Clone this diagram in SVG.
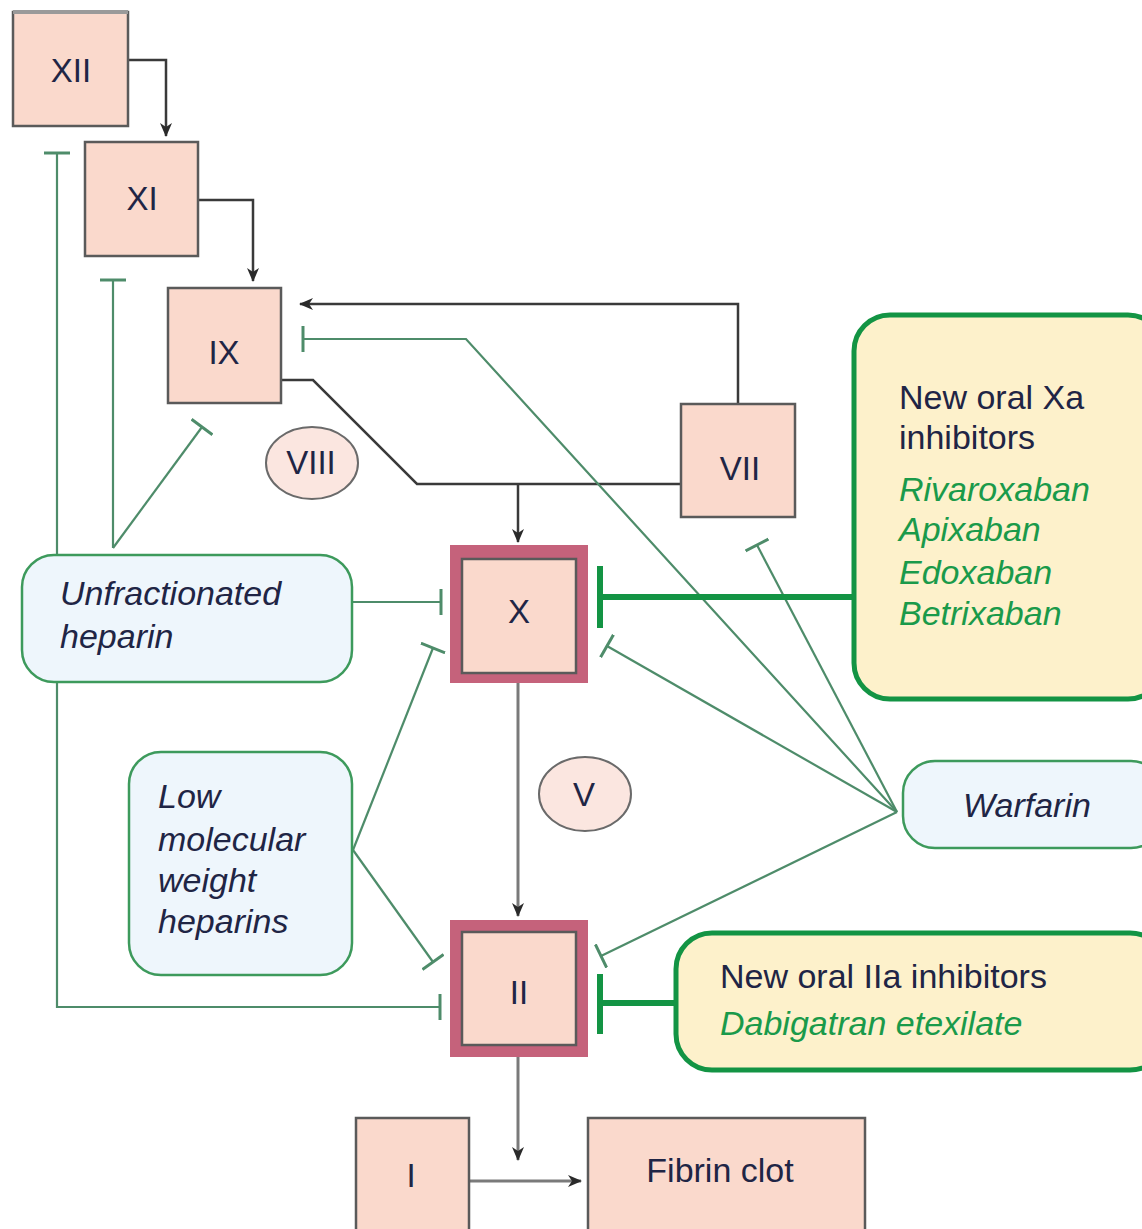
<svg xmlns="http://www.w3.org/2000/svg" width="1142" height="1229" viewBox="0 0 1142 1229">
<style>
.f{fill:#fad9cc;stroke:#5a5a5a;stroke-width:2.5}
.frame{fill:#c5627b}
.lab{font-family:"Liberation Sans",Arial,sans-serif;font-size:33px;fill:#1f2545;text-anchor:middle}
.it{font-family:"Liberation Sans",Arial,sans-serif;font-size:34px;font-style:italic;fill:#1f2545}
.gi{font-family:"Liberation Sans",Arial,sans-serif;font-size:34px;font-style:italic;fill:#1a9a4a}
.tx{font-family:"Liberation Sans",Arial,sans-serif;font-size:34px;fill:#1f2545}
.drug{fill:#eef6fc;stroke:#3d9a5c;stroke-width:2.5}
.newd{fill:#fdf1cb;stroke:#139444;stroke-width:5}
.ell{fill:#fbe6e0;stroke:#6a6a6a;stroke-width:2}
.act{fill:none;stroke:#3a3a3a;stroke-width:2.5}
.act2{fill:none;stroke:#7a7a7a;stroke-width:3}
.inh{fill:none;stroke:#4e8c6a;stroke-width:2.2}
.thick{fill:none;stroke:#139444;stroke-width:6}
</style>
<defs>
<marker id="arr" viewBox="0 0 14 14" refX="13" refY="7" markerWidth="14" markerHeight="14" markerUnits="userSpaceOnUse" orient="auto">
<path d="M0,1 L14,7 L0,13 L4,7 z" fill="#2a2a2a"/>
</marker>
<marker id="tee" viewBox="0 0 4 26" refX="2" refY="13" markerWidth="4" markerHeight="26" markerUnits="userSpaceOnUse" orient="auto">
<path d="M2,0 L2,26" stroke="#4e8c6a" stroke-width="3"/>
</marker>
</defs>

<g id="connectors">
<path class="act" d="M128,60 H166 V136" marker-end="url(#arr)"/>
<path class="act" d="M198,200 H253 V281" marker-end="url(#arr)"/>
<path class="act" d="M738,404 V304 H300" marker-end="url(#arr)"/>
<path class="act" d="M281,380 H313 L417,484 H682"/>
<path class="act" d="M518,484 V542" marker-end="url(#arr)"/>
<path class="act2" d="M518,683 V916" marker-end="url(#arr)"/>
<path class="act2" d="M518,1057 V1160" marker-end="url(#arr)"/>
<path class="act2" d="M469,1181 H581" marker-end="url(#arr)"/>
<path class="inh" d="M57,555 V153" marker-end="url(#tee)"/>
<path class="inh" d="M113,548 V280" marker-end="url(#tee)"/>
<path class="inh" d="M113,548 L202,427" marker-end="url(#tee)"/>
<path class="inh" d="M352,602 H441" marker-end="url(#tee)"/>
<path class="inh" d="M57,682 V1007 H440" marker-end="url(#tee)"/>
<path class="inh" d="M353,850 L433,648" marker-end="url(#tee)"/>
<path class="inh" d="M353,850 L433,962" marker-end="url(#tee)"/>
<path class="inh" d="M897,812 L466,339 H303" marker-end="url(#tee)"/>
<path class="inh" d="M897,812 L757,545" marker-end="url(#tee)"/>
<path class="inh" d="M897,812 L607,646" marker-end="url(#tee)"/>
<path class="inh" d="M897,812 L601,956" marker-end="url(#tee)"/>
<path class="thick" d="M855,597 H600 M600,566 V628"/>
<path class="thick" d="M676,1003 H600 M600,974 V1034"/>
</g>

<g id="XII">
<rect class="f" x="13" y="12" width="115" height="114"/>
<line x1="13" y1="12" x2="128" y2="12" stroke="#9a9a9a" stroke-width="4"/>
<text class="lab" x="71" y="82">XII</text>
</g>
<g id="XI">
<rect class="f" x="85" y="142" width="113" height="114"/>
<text class="lab" x="142" y="210">XI</text>
</g>
<g id="IX">
<rect class="f" x="168" y="288" width="113" height="115"/>
<text class="lab" x="224" y="364">IX</text>
</g>
<g id="VIII">
<ellipse class="ell" cx="312" cy="463" rx="46" ry="36"/>
<text class="lab" x="311" y="474">VIII</text>
</g>
<g id="VII">
<rect class="f" x="681" y="404" width="114" height="113"/>
<text class="lab" x="740" y="480">VII</text>
</g>
<g id="X">
<rect class="frame" x="450" y="545" width="138" height="138"/>
<rect class="f" x="462" y="559" width="114" height="114"/>
<text class="lab" x="519" y="623">X</text>
</g>
<g id="V">
<ellipse class="ell" cx="585" cy="794" rx="46" ry="37"/>
<text class="lab" x="584" y="806">V</text>
</g>
<g id="II">
<rect class="frame" x="450" y="920" width="138" height="137"/>
<rect class="f" x="462" y="932" width="114" height="113"/>
<text class="lab" x="519" y="1004">II</text>
</g>
<g id="I">
<rect class="f" x="356" y="1118" width="113" height="115"/>
<text class="lab" x="411" y="1187">I</text>
</g>
<g id="fibrin">
<rect class="f" x="588" y="1118" width="277" height="115"/>
<text class="lab" x="720" y="1182" style="font-size:34px">Fibrin clot</text>
</g>
<g id="ufh">
<rect class="drug" x="22" y="555" width="330" height="127" rx="32"/>
<text class="it" x="60" y="605">Unfractionated</text>
<text class="it" x="60" y="648">heparin</text>
</g>
<g id="lmwh">
<rect class="drug" x="129" y="752" width="223" height="223" rx="32"/>
<text class="it" x="158" y="808">Low</text>
<text class="it" x="158" y="851">molecular</text>
<text class="it" x="158" y="892">weight</text>
<text class="it" x="158" y="933">heparins</text>
</g>
<g id="warfarin">
<rect class="drug" x="903" y="761" width="260" height="87" rx="32"/>
<text class="it" x="963" y="817">Warfarin</text>
</g>
<g id="xa">
<rect class="newd" x="854" y="315" width="310" height="384" rx="36"/>
<text class="tx" x="899" y="409">New oral Xa</text>
<text class="tx" x="899" y="449">inhibitors</text>
<text class="gi" x="899" y="501">Rivaroxaban</text>
<text class="gi" x="899" y="541">Apixaban</text>
<text class="gi" x="899" y="584">Edoxaban</text>
<text class="gi" x="899" y="625">Betrixaban</text>
</g>
<g id="iia">
<rect class="newd" x="676" y="933" width="490" height="137" rx="36"/>
<text class="tx" x="720" y="988">New oral IIa inhibitors</text>
<text class="gi" x="720" y="1035">Dabigatran etexilate</text>
</g>
</svg>
